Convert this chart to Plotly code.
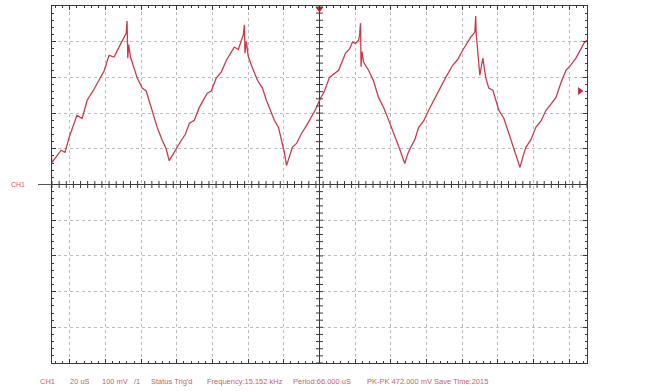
import numpy as np
import plotly.graph_objects as go

# CH1 capture: time in microseconds, amplitude in millivolts
t_us = [
    -150.5, -150.0, -144.9, -142.7, -140.4, -136.0, -133.1, -130.3, -127.0, -123.6,
    -120.8, -118.0, -115.2, -112.9, -111.2, -108.4, -107.9, -107.5, -107.0, -106.0,
    -102.2, -99.4, -97.2, -94.4, -91.0, -88.2, -86.0, -84.3, -82.6, -81.5,
    -77.5, -75.3, -73.0, -70.2, -67.4, -62.9, -60.7, -57.9, -55.1, -52.2,
    -47.8, -45.5, -43.8, -42.7, -42.1, -41.8, -41.0, -40.0, -38.2, -34.8,
    -32.0, -29.8, -25.3, -23.0, -21.3, -19.7, -18.5, -16.9, -15.2, -12.9,
    -10.1, -7.3, -4.5, -2.2, 0.0, 2.8, 5.6, 10.7, 14.6, 16.9,
    18.5, 20.2, 21.9, 22.5, 23.0, 23.3, 23.8, 24.7, 27.5, 30.3,
    33.1, 36.0, 38.2, 40.4, 42.7, 44.9, 47.8, 49.4, 51.1, 53.4,
    55.6, 58.4, 61.2, 64.0, 66.9, 70.8, 74.7, 77.5, 80.3, 82.6,
    84.8, 87.1, 87.6, 87.9, 88.7, 89.9, 91.6, 93.2, 94.9, 97.2,
    100.6, 103.4, 106.2, 109.0, 112.4, 114.1, 115.7, 118.5, 121.3, 124.2,
    127.0, 129.8, 132.6, 135.4, 138.2, 141.0, 143.8, 146.6, 148.3, 150.0,
]
ch1_mv = [
    87, 62, 96, 90, 132, 194, 185, 236, 262, 292,
    318, 362, 357, 380, 396, 424, 458, 354, 392, 357,
    298, 270, 262, 216, 160, 124, 100, 67, 80, 90,
    124, 140, 171, 180, 216, 256, 262, 298, 315, 348,
    385, 378, 404, 420, 447, 368, 400, 360, 334, 292,
    270, 236, 180, 160, 124, 90, 53, 80, 104, 115,
    143, 165, 188, 210, 236, 262, 300, 320, 368, 380,
    399, 395, 404, 420, 452, 330, 372, 343, 320, 290,
    244, 215, 188, 160, 132, 100, 59, 85, 104, 125,
    160, 178, 208, 235, 264, 300, 334, 350, 376, 395,
    413, 427, 472, 420, 380, 306, 354, 300, 270, 264,
    208, 185, 143, 100, 48, 78, 104, 125, 160, 178,
    208, 225, 244, 285, 320, 335, 354, 380, 396, 404,
]

# Scope settings shown in the status bar
status_items = ["CH1", "20 uS", "100 mV", "/1", "Status Trig'd",
                "Frequency:15.152 kHz", "Period:66.000 uS",
                "PK-PK 472.000 mV Save Time:2015"]
status_px = [38, 68, 100, 132, 149, 205, 291, 365]

US_PER_DIV = 20
MV_PER_DIV = 100
X_HALF = 7.5 * US_PER_DIV
Y_HALF = 5 * MV_PER_DIV

TRACE = "#c83c4a"
TEXT = "#d45a66"
GRID = "#bcbcbc"
AXIS = "#3a3a3a"

W, H = 656, 391
ML, MR, MT, MB = 52, 69, 6, 28
PW, PH = W - ML - MR, H - MT - MB

fig = go.Figure()

fig.add_trace(go.Scatter(
    x=t_us, y=ch1_mv, mode="lines",
    line=dict(color=TRACE, width=1.3),
    hoverinfo="skip", showlegend=False,
))

# small graduation marks along the centre cross
xs = np.arange(-X_HALF, X_HALF + 0.01, US_PER_DIV / 5)
ys = np.arange(-Y_HALF, Y_HALF + 0.01, MV_PER_DIV / 5)
fig.add_trace(go.Scatter(
    x=xs, y=np.zeros_like(xs), mode="markers",
    marker=dict(symbol="line-ns", size=5, line=dict(width=1, color=AXIS)),
    hoverinfo="skip", showlegend=False, cliponaxis=False,
))
fig.add_trace(go.Scatter(
    x=np.zeros_like(ys), y=ys, mode="markers",
    marker=dict(symbol="line-ew", size=5, line=dict(width=1, color=AXIS)),
    hoverinfo="skip", showlegend=False, cliponaxis=False,
))

# trigger position (top) and trigger level (right) markers
fig.add_trace(go.Scatter(
    x=[0], y=[Y_HALF - 8], mode="markers",
    marker=dict(symbol="triangle-down", size=7, color="#b8202c"),
    hoverinfo="skip", showlegend=False, cliponaxis=False,
))
fig.add_trace(go.Scatter(
    x=[X_HALF - 4], y=[262], mode="markers",
    marker=dict(symbol="triangle-right", size=7, color="#c02838"),
    hoverinfo="skip", showlegend=False, cliponaxis=False,
))

axis_common = dict(
    showline=True, linecolor=AXIS, linewidth=1, mirror="allticks",
    ticks="inside", ticklen=4, tickcolor=AXIS, tickwidth=1,
    showticklabels=False, showgrid=True, gridcolor=GRID, gridwidth=1,
    griddash="dot", zeroline=True, zerolinecolor=AXIS, zerolinewidth=1,
    fixedrange=True,
)
fig.update_xaxes(range=[-X_HALF, X_HALF], tick0=0, dtick=US_PER_DIV,
                 minor=dict(dtick=US_PER_DIV / 5, ticks="inside", ticklen=2,
                            tickcolor=AXIS, showgrid=False),
                 **axis_common)
fig.update_yaxes(range=[-Y_HALF, Y_HALF], tick0=0, dtick=MV_PER_DIV,
                 minor=dict(dtick=MV_PER_DIV / 5, ticks="inside", ticklen=2,
                            tickcolor=AXIS, showgrid=False),
                 **axis_common)

annotations = []
# channel reference label on the left
annotations.append(dict(
    text="CH1", xref="paper", yref="y", x=(27 - ML) / PW, y=0,
    xanchor="right", yanchor="middle", showarrow=False,
    font=dict(family="Liberation Sans, Arial", size=7, color=TEXT),
))
for label, px in zip(status_items, status_px):
    annotations.append(dict(
        text=label, xref="paper", yref="paper",
        x=(px - ML) / PW, y=-(381 - MT - PH) / PH,
        xanchor="left", yanchor="middle", showarrow=False,
        font=dict(family="Liberation Sans, Arial", size=7.5, color=TEXT),
    ))

shapes = [dict(
    type="line", xref="paper", yref="y",
    x0=(38 - ML) / PW, x1=0, y0=0, y1=0,
    line=dict(color="#555555", width=1),
)]

fig.update_layout(
    width=W, height=H,
    margin=dict(l=ML, r=MR, t=MT, b=MB),
    paper_bgcolor="white", plot_bgcolor="white",
    annotations=annotations, shapes=shapes,
    showlegend=False,
)

fig.write_html("out.html")
